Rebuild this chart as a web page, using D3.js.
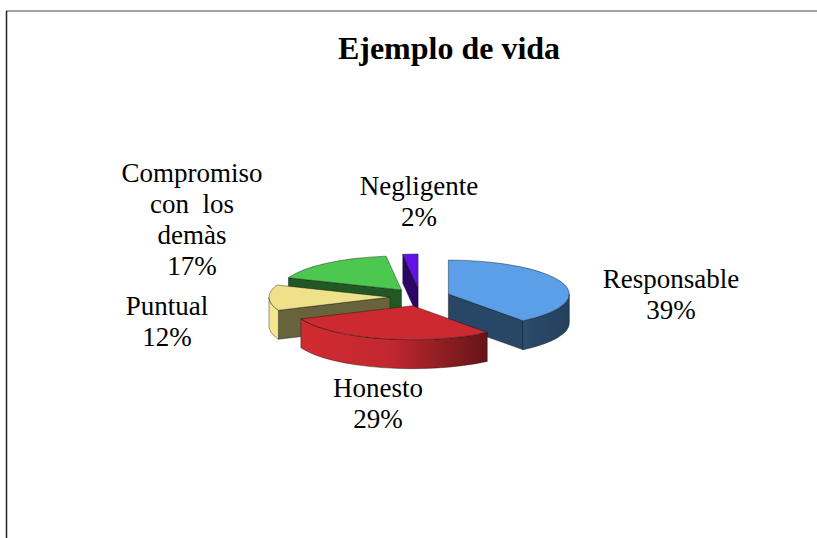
<!DOCTYPE html>
<html>
<head>
<meta charset="utf-8">
<script src="https://cdn.jsdelivr.net/npm/d3@7"></script>
<style>
body { margin: 0; background: #fff; }
text { font-family: "Liberation Serif", "Times New Roman", serif; fill: #000; }
</style>
</head>
<body>
<svg width="817" height="538"></svg>
<script>
var title = "Ejemplo de vida";
var categories = ["Responsable", "Honesto", "Puntual", "Compromiso con  los demàs", "Negligente"];
var labelLines = [["Responsable"], ["Honesto"], ["Puntual"], ["Compromiso", "con  los", "demàs"], ["Negligente"]];
var values = [39, 29, 12, 17, 2];
var colors = ["#5B9FE8", "#CC2A30", "#EEE18A", "#4CC850", "#6512E8"];

// where each label block sits (centre x, first baseline)
var labelPos = [[671, 288], [378, 397], [167, 315], [192, 182], [419, 195]];

var svg = d3.select("svg");
var cx = 420, cy = 297,      // pie centre
    rx = 121, ry = 34,       // top ellipse radii
    h = 29,                  // thickness
    ox = 30, oy = 9;         // explode offsets

// frame
svg.append("line").attr("x1", 6).attr("y1", 11).attr("x2", 817).attr("y2", 11)
    .attr("stroke", "#444").attr("stroke-width", 1);
svg.append("line").attr("x1", 6.5).attr("y1", 11).attr("x2", 6.5).attr("y2", 538)
    .attr("stroke", "#222").attr("stroke-width", 1.5);

svg.append("text")
    .attr("x", 449).attr("y", 59)
    .attr("text-anchor", "middle")
    .style("font-size", "32px").style("font-weight", "bold")
    .text(title);

var pie = d3.pie().sort(null).value(function (d) { return d; });
var arcs = pie(values);

var defs = svg.append("defs");

function shade(c, k) {
    var r = d3.rgb(c);
    return d3.rgb(r.r * k, r.g * k, r.b * k).formatHex();
}

function pt(a, ax, ay, dy) {
    return [ax + rx * Math.sin(a), ay - ry * Math.cos(a) + (dy || 0)];
}

var walls = [], tops = [];

arcs.forEach(function (d, i) {
    var mid = (d.startAngle + d.endAngle) / 2;
    var ax = cx + ox * Math.sin(mid), ay = cy - oy * Math.cos(mid);
    var s = d.startAngle, e = d.endAngle;
    var col = colors[i];

    var g = defs.append("linearGradient").attr("id", "side" + i)
        .attr("gradientUnits", "userSpaceOnUse")
        .attr("x1", ax - rx).attr("x2", ax + rx).attr("y1", 0).attr("y2", 0);
    [[0, 1.03], [0.4, 0.95], [0.85, 0.45], [1, 0.4]].forEach(function (st) {
        g.append("stop").attr("offset", st[0]).attr("stop-color", shade(col, st[1]));
    });

    // top face
    var p0 = pt(s, ax, ay), p1 = pt(e, ax, ay);
    var large = (e - s) > Math.PI ? 1 : 0;
    tops.push({
        d: "M" + ax + "," + ay + "L" + p0 + "A" + rx + "," + ry + " 0 " + large + " 1 " + p1 + "Z",
        fill: col
    });

    // radial walls facing the viewer
    function radial(a) {
        var p = pt(a, ax, ay);
        walls.push({
            d: "M" + ax + "," + ay + "L" + p + "L" + [p[0], p[1] + h] + "L" + [ax, ay + h] + "Z",
            fill: shade(col, 0.44),
            depth: (ay + p[1]) / 2
        });
    }
    if (Math.sin(s) < -1e-6) radial(s);
    if (Math.sin(e) > 1e-6) radial(e);

    // outer wall (front half only)
    var lo = Math.max(s, Math.PI / 2), hi = Math.min(e, 3 * Math.PI / 2);
    if (lo < hi) {
        var q0 = pt(lo, ax, ay), q1 = pt(hi, ax, ay);
        walls.push({
            d: "M" + q0 + "A" + rx + "," + ry + " 0 0 1 " + q1 +
               "L" + [q1[0], q1[1] + h] +
               "A" + rx + "," + ry + " 0 0 0 " + [q0[0], q0[1] + h] + "Z",
            fill: "url(#side" + i + ")",
            depth: ay + ry * 0.9
        });
    }
});

walls.sort(function (a, b) { return a.depth - b.depth; });

var pieG = svg.append("g");
pieG.selectAll("path.wall").data(walls).join("path")
    .attr("class", "wall")
    .attr("d", function (d) { return d.d; })
    .attr("fill", function (d) { return d.fill; })
    .attr("stroke", "#111").attr("stroke-opacity", 0.6).attr("stroke-width", 0.7)
    .attr("stroke-linejoin", "round");
pieG.selectAll("path.top").data(tops).join("path")
    .attr("class", "top")
    .attr("d", function (d) { return d.d; })
    .attr("fill", function (d) { return d.fill; })
    .attr("stroke", "#111").attr("stroke-opacity", 0.6).attr("stroke-width", 0.7)
    .attr("stroke-linejoin", "round");

// labels
var lab = svg.append("g").selectAll("text").data(arcs).join("text")
    .attr("text-anchor", "middle")
    .style("font-size", "27px")
    .attr("xml:space", "preserve")
    .style("white-space", "pre");

lab.each(function (d, i) {
    var t = d3.select(this);
    var lines = labelLines[i].concat([d.data + "%"]);
    lines.forEach(function (ln, k) {
        t.append("tspan")
            .attr("x", labelPos[i][0])
            .attr("y", labelPos[i][1] + k * 31)
            .text(ln);
    });
});
</script>
</body>
</html>
